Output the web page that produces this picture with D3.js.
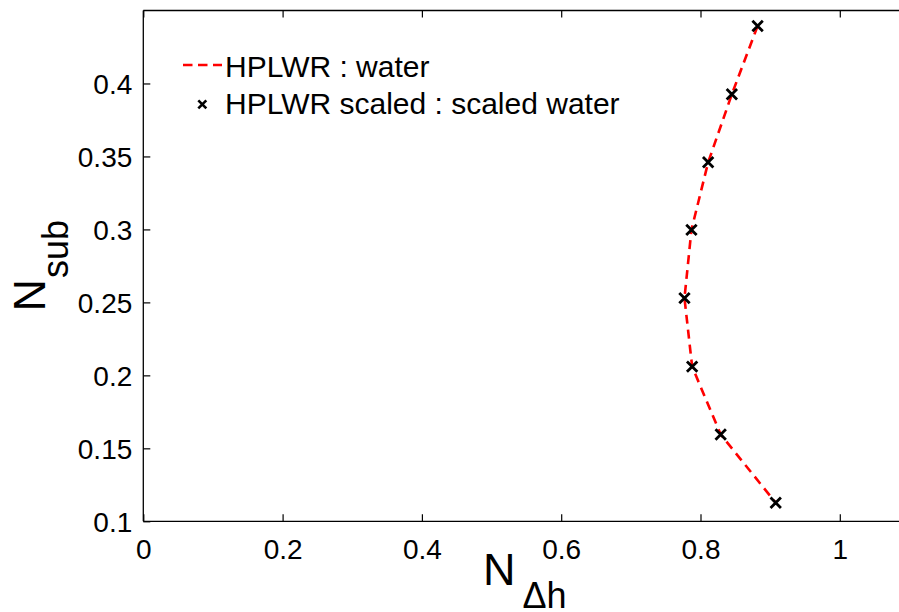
<!DOCTYPE html>
<html>
<head>
<meta charset="utf-8">
<script src="https://cdn.jsdelivr.net/npm/d3@7"></script>
<style>
  html, body { margin: 0; padding: 0; background: #fff; }
  svg { display: block; }
  text { font-family: "Liberation Sans", Arial, Helvetica, sans-serif; fill: #000; }
</style>
</head>
<body>
<svg id="chart" width="899" height="612"></svg>
<script>
// ---- data ----
const nDeltaH = [0.882, 0.845, 0.811, 0.787, 0.777, 0.788, 0.829, 0.908];
const nSub    = [0.4394, 0.3926, 0.346, 0.2997, 0.2529, 0.206, 0.1595, 0.1127];
const nDeltaHScaled = [0.882, 0.845, 0.811, 0.787, 0.777, 0.788, 0.829, 0.908];
const nSubScaled    = [0.4394, 0.3926, 0.346, 0.2997, 0.2529, 0.206, 0.1595, 0.1127];
const xTicks = [0, 0.2, 0.4, 0.6, 0.8, 1];
const yTicks = [0.1, 0.15, 0.2, 0.25, 0.3, 0.35, 0.4];
const legendLabels = ["HPLWR : water", "HPLWR scaled : scaled water"];

// ---- layout ----
const svg = d3.select("#chart");
const L = 143.3, R = 899, T = 10.5, B = 521.3;
const x = d3.scaleLinear().domain([0, 1.085]).range([L, R]);
const y = d3.scaleLinear().domain([0.1, 0.45]).range([B, T]);

const tickFont = 28;

// frame
const frame = svg.append("g").attr("stroke", "#000").attr("stroke-width", 1.3).attr("fill", "none");
frame.append("line").attr("x1", L).attr("x2", R + 2).attr("y1", B).attr("y2", B);
frame.append("line").attr("x1", L).attr("x2", R + 2).attr("y1", T).attr("y2", T);
frame.append("line").attr("x1", L).attr("x2", L).attr("y1", T).attr("y2", B);

// axes (inward ticks)
const xAxisB = d3.axisBottom(x).tickValues(xTicks).tickSize(-7).tickPadding(18)
  .tickFormat(d => d3.format("")(d));
const gx = svg.append("g").attr("transform", `translate(0,${B})`).call(xAxisB);
const xAxisT = d3.axisTop(x).tickValues(xTicks).tickSize(-7).tickFormat("");
const gxt = svg.append("g").attr("transform", `translate(0,${T})`).call(xAxisT);
const yAxisL = d3.axisLeft(y).tickValues(yTicks).tickSize(-7).tickPadding(11)
  .tickFormat(d => d3.format("")(+d.toFixed(2)));
const gy = svg.append("g").attr("transform", `translate(${L},0)`).call(yAxisL);

[gx, gxt, gy].forEach(g => {
  g.select(".domain").remove();
  g.selectAll(".tick line").attr("stroke", "#000").attr("stroke-width", 1.2);
  g.selectAll(".tick text").attr("font-size", tickFont)
    .attr("font-family", "'Liberation Sans', Arial, Helvetica, sans-serif").attr("fill", "#000");
});
gx.selectAll(".tick text").attr("dy", "0.71em");
gy.selectAll(".tick text").attr("dy", "0.35em");

// line series
const pts = nDeltaH.map((v, i) => [v, nSub[i]]);
svg.append("path")
  .datum(pts)
  .attr("fill", "none")
  .attr("stroke", "#ff0000")
  .attr("stroke-width", 2.6)
  .attr("stroke-dasharray", "9,6")
  .attr("d", d3.line().x(d => x(d[0])).y(d => y(d[1])));

// markers
const m = 5.2;
const mk = svg.append("g").attr("stroke", "#000").attr("stroke-width", 2.8);
nDeltaHScaled.forEach((v, i) => {
  const cx = x(v), cy = y(nSubScaled[i]);
  mk.append("path").attr("d", `M${cx - m},${cy - m}L${cx + m},${cy + m}M${cx - m},${cy + m}L${cx + m},${cy - m}`);
});

// legend
const lg = svg.append("g");
lg.append("line").attr("x1", 183).attr("x2", 222).attr("y1", 65).attr("y2", 65)
  .attr("stroke", "#ff0000").attr("stroke-width", 2.6).attr("stroke-dasharray", "9.5,5.5");
lg.append("text").attr("x", 225).attr("y", 76.7).attr("font-size", 30).text(legendLabels[0]);
const lm = 4, lx = 202.3, ly = 104.3;
lg.append("path").attr("d", `M${lx - lm},${ly - lm}L${lx + lm},${ly + lm}M${lx - lm},${ly + lm}L${lx + lm},${ly - lm}`)
  .attr("stroke", "#000").attr("stroke-width", 2.6);
lg.append("text").attr("x", 225).attr("y", 114).attr("font-size", 30).text(legendLabels[1]);

// axis labels
const xl = svg.append("text").attr("x", 483).attr("y", 585).attr("font-size", 45);
xl.append("tspan").text("N");
xl.append("tspan").attr("dx", 7).attr("dy", 23).attr("font-size", 36).text("Δh");

const yl = svg.append("text").attr("transform", "translate(45,311.5) rotate(-90)").attr("font-size", 45);
yl.append("tspan").text("N");
yl.append("tspan").attr("dx", 1).attr("dy", 23).attr("font-size", 36).text("sub");
</script>
</body>
</html>
